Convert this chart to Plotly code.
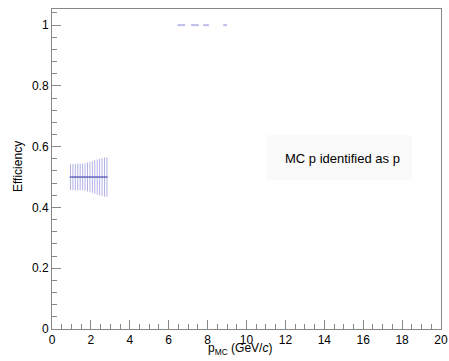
import plotly.graph_objects as go

# Low-momentum bins (efficiency ~0.5 with errors)
low_x = [0.95, 1.075, 1.2, 1.325, 1.45, 1.575, 1.7, 1.825, 1.95, 2.075, 2.2, 2.325, 2.45, 2.575, 2.7, 2.825]
low_y = [0.5] * 16
low_err = [0.043, 0.043, 0.043, 0.044, 0.044, 0.044, 0.045, 0.048, 0.05, 0.052, 0.055, 0.058, 0.06, 0.062, 0.064, 0.065]
low_xerr = [0.0625] * 16

# High-momentum bins with efficiency 1
high_x = [6.55, 6.75, 7.25, 7.45, 7.85, 8.0, 8.9]
high_y = [1.0] * 7
high_xerr = [0.1, 0.1, 0.1, 0.1, 0.08, 0.07, 0.1]

x_ticks = [0, 2, 4, 6, 8, 10, 12, 14, 16, 18, 20]
y_ticks = [0, 0.2, 0.4, 0.6, 0.8, 1]

col = "rgba(100,100,205,0.5)"

PW, PH = 389, 320  # plot-area size in px

fig = go.Figure()
fig.add_trace(go.Scatter(
    x=low_x, y=low_y, mode="lines",
    line=dict(color="rgba(80,80,180,0.9)", width=1),
    error_y=dict(type="data", array=low_err, color=col, thickness=1, width=0),
    error_x=dict(type="data", array=low_xerr, color="rgba(80,80,180,0.7)", thickness=1, width=0),
    showlegend=False, hoverinfo="skip"))
fig.add_trace(go.Scatter(
    x=high_x, y=high_y, mode="markers",
    marker=dict(size=1, color="rgba(120,120,210,0.5)"),
    error_x=dict(type="data", array=high_xerr, color="rgba(120,120,210,0.45)", thickness=2, width=0),
    showlegend=False, hoverinfo="skip"))

fig.add_shape(type="rect", xref="paper", yref="paper",
              x0=(266 - 52) / PW, x1=(412 - 52) / PW,
              y0=(329 - 180) / PH, y1=(329 - 135) / PH,
              fillcolor="#fafafa", line=dict(width=0), layer="below")
fig.add_annotation(text="MC p identified as p", xref="paper", yref="paper",
                   x=(342 - 52) / PW, y=(329 - 158) / PH, showarrow=False,
                   font=dict(size=13, color="black"), xanchor="center", yanchor="middle")

fig.add_annotation(text="p<sub>MC</sub> (GeV/<i>c</i>)", xref="paper", yref="paper",
                   x=(240 - 52) / PW, y=-(349 - 329) / PH, showarrow=False,
                   font=dict(size=12, color="black"), xanchor="center", yanchor="middle")
fig.add_annotation(text="Efficiency", xref="paper", yref="paper",
                   x=-(52 - 18) / PW, y=(329 - 167) / PH, showarrow=False, textangle=-90,
                   font=dict(size=12, color="black"), xanchor="center", yanchor="middle")

axis_common = dict(showgrid=False, zeroline=False, showline=True, linecolor="#888888",
                   linewidth=1, mirror=True, ticks="inside", tickcolor="#888888",
                   automargin=False,
                   tickfont=dict(size=12, color="black", family="Liberation Sans, Arial"))

fig.update_layout(
    width=449, height=361,
    margin=dict(l=52, r=8, t=9, b=32, autoexpand=False),
    paper_bgcolor="white", plot_bgcolor="white",
    font=dict(family="Liberation Sans, Arial, sans-serif", color="black"),
    xaxis=dict(range=[0, 20], tickvals=x_ticks, ticklen=9,
               minor=dict(dtick=0.5, ticks="inside", ticklen=5, tickcolor="#888888"),
               **axis_common),
    yaxis=dict(range=[0, 1.053], tickvals=y_ticks, ticklen=9,
               minor=dict(dtick=0.04, ticks="inside", ticklen=5, tickcolor="#888888"),
               **axis_common),
)

fig.write_html(
    "out.html",
    config={"displayModeBar": False, "staticPlot": True},
    post_script="document.body.style.margin='0';document.body.style.overflow='hidden';"
                "document.documentElement.style.overflow='hidden';",
)
